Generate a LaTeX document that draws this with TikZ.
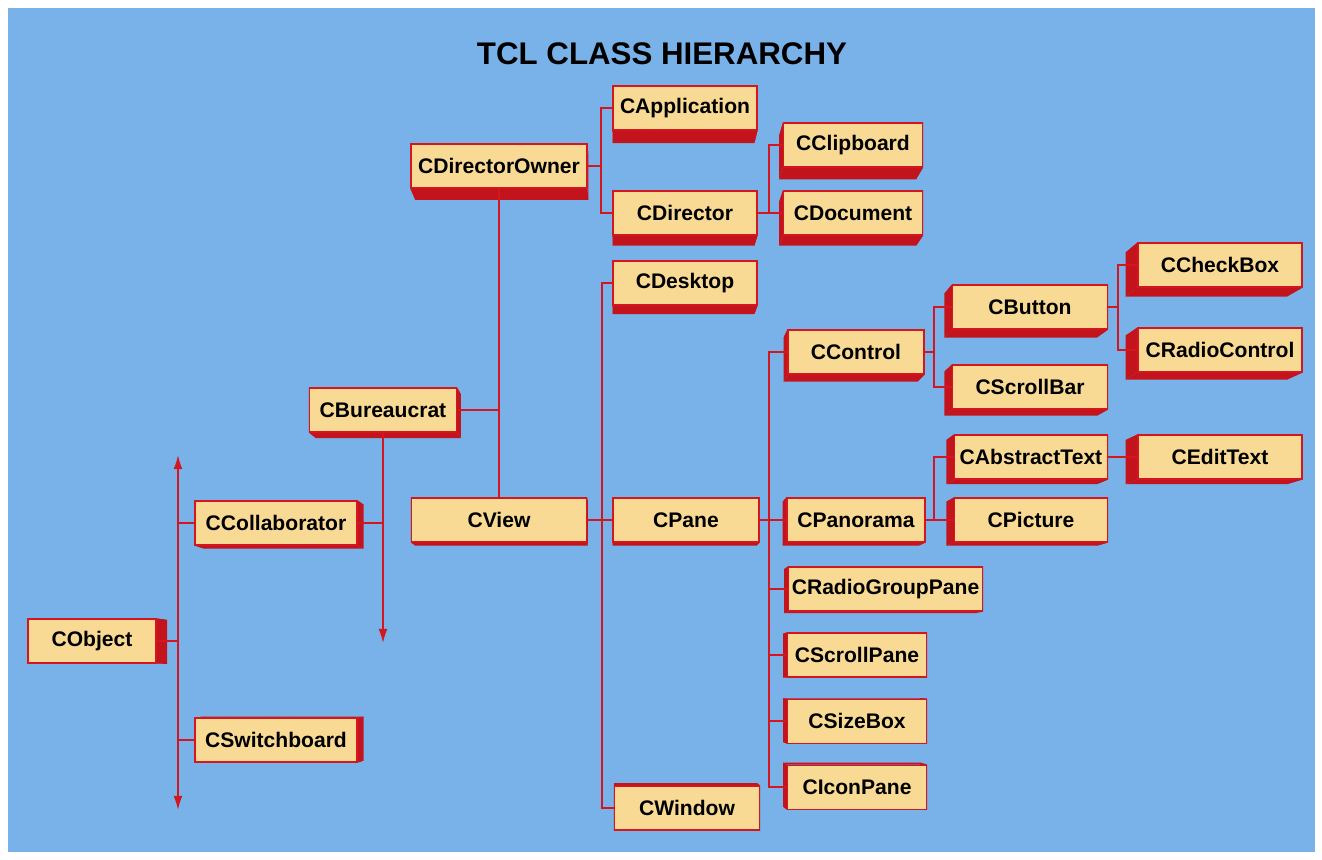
\documentclass[tikz,border=0pt]{standalone}
\usepackage{fontspec}
\setmainfont{Liberation Sans}
\usetikzlibrary{positioning, calc, arrows.meta}
\definecolor{sky}{RGB}{121,178,232}
\definecolor{boxfill}{RGB}{248,218,148}
\definecolor{boxred}{RGB}{212,22,32}
\pgfdeclarelayer{backdrop}
\pgfdeclarelayer{sides}
\pgfsetlayers{backdrop,sides,main}
\newcommand{\recede}{0.023}

\begin{document}
\begin{tikzpicture}[
    x=0.02cm, y=-0.02cm,
    node distance=0.42cm,
    cls/.style={rectangle, draw=boxred, line width=0.6pt, fill=boxfill, inner sep=0pt,
        minimum height=0.88cm, minimum width=#1*0.02cm, font=\fontsize{12}{14}\selectfont\bfseries},
    side/.style={fill=boxred!92!black},
    link/.style={draw=boxred, line width=0.8pt},
    >={Latex[length=8pt,width=5pt]}
]
    \useasboundingbox (0,0) rectangle (1322,859);
    \begin{pgfonlayer}{backdrop}
        \fill[white] (0,0) rectangle (1322,859);
        \fill[sky] (8,8) rectangle (1315,852);
    \end{pgfonlayer}

    \node[font=\fontsize{17.8}{20}\selectfont\bfseries] (title) at (662,54) {TCL CLASS HIERARCHY};

    % left part of the tree
    \node[cls=128] (obj) at (92,641) {CObject};
    \node[cls=162] (collab) at (276,523) {CCollaborator};
    \node[cls=162] (switch) at (276,740) {CSwitchboard};
    \node[cls=147] (bureau) at (383,410) {CBureaucrat};
    \node[cls=176] (dirown) at (499,166) {CDirectorOwner};
    \node[cls=175] (view) at (499,520) {CView};

    % middle column
    \node[cls=144] (app) at (685,108) {CApplication};
    \node[cls=144] (director) at (685,213) {CDirector};
    \node[cls=144] (desktop) at (685,283) {CDesktop};
    \node[cls=146] (pane) at (686,520) {CPane};
    \node[cls=145] (window) at (687,808) {CWindow};

    % pane subclasses
    \node[cls=139] (clip) at (853,145) {CClipboard};
    \node[cls=139] (doc) at (853,213) {CDocument};
    \node[cls=136] (ctrl) at (856,352) {CControl};
    \node[cls=138] (panorama) at (856,520) {CPanorama};
    \node[cls=194, anchor=west] (rgpane) at (788,589) {CRadioGroupPane};
    \node[cls=139] (spane) at (857,655) {CScrollPane};
    \node[cls=139, below=of spane] (sizebox) {CSizeBox};
    \node[cls=139, below=of sizebox] (iconpane) {CIconPane};

    % right part
    \node[cls=155] (button) at (1030,307) {CButton};
    \node[cls=155] (sbar) at (1030,387) {CScrollBar};
    \node[cls=153] (atext) at (1031,457) {CAbstractText};
    \node[cls=153] (picture) at (1031,520) {CPicture};
    \node[cls=164] (check) at (1220,265) {CCheckBox};
    \node[cls=164] (radio) at (1220,350) {CRadioControl};
    \node[cls=164] (edit) at (1220,457) {CEditText};

    % depth of the boxes, towards one vanishing point
    \coordinate (vp) at (620,680);
    \begin{pgfonlayer}{sides}
        \foreach \n in {obj,collab,switch,bureau,dirown,view,app,director,desktop,pane,window,
                        clip,doc,ctrl,panorama,rgpane,spane,sizebox,iconpane,
                        button,sbar,atext,picture,check,radio,edit} {
            \foreach \a/\b in {north west/north east, north east/south east,
                               south east/south west, south west/north west}
                \fill[side] (\n.\a) -- (\n.\b) -- ($(\n.\b)!\recede!(vp)$) -- ($(\n.\a)!\recede!(vp)$) -- cycle;
        }
    \end{pgfonlayer}

    % branch points
    \coordinate (objtop) at (178,455);
    \coordinate (objbot) at (178,810);
    \coordinate (bureaubot) at (383,643);
    \coordinate (jdirown) at (601,0);
    \coordinate (jdirector) at (769,0);
    \coordinate (jview) at (602,0);
    \coordinate (jpane) at (769,0);
    \coordinate (jctrl) at (934,0);
    \coordinate (jbutton) at (1118,0);

    \draw[link, <->] (objtop) -- (objbot);
    \draw[link] (obj.east) -- (obj.east -| objtop);
    \draw[link] (collab.west) -- (collab.west -| objtop);
    \draw[link] (switch.west) -- (switch.west -| objtop);
    \draw[link, ->] (bureau.south) -- (bureaubot);
    \draw[link] (collab.east) -- (collab.east -| bureaubot);
    \draw[link] (bureau.east) -- (bureau.east -| dirown.south);
    \draw[link] (dirown.south) -- (view.north);
    \draw[link] (dirown.east) -- (dirown.east -| jdirown);
    \draw[link] (app.west) -| (jdirown |- director.west) -- (director.west);
    \draw[link] (director.east) -- (doc.west);
    \draw[link] (clip.west) -| (jdirector |- doc.west);
    \draw[link] (view.east) -- (pane.west);
    \draw[link] (desktop.west) -| (jview |- window.west) -- (window.west);
    \draw[link] (pane.east) -- (panorama.west);
    \draw[link] (ctrl.west) -| (jpane |- iconpane.west) -- (iconpane.west);
    \foreach \n in {rgpane,spane,sizebox}
        \draw[link] (\n.west) -- (\n.west -| jpane);
    \draw[link] (ctrl.east) -- (ctrl.east -| jctrl);
    \draw[link] (button.west) -| (jctrl |- sbar.west) -- (sbar.west);
    \draw[link] (button.east) -- (button.east -| jbutton);
    \draw[link] (check.west) -| (jbutton |- radio.west) -- (radio.west);
    \draw[link] (panorama.east) -- (picture.west);
    \draw[link] (atext.west) -| (jctrl |- picture.west);
    \draw[link] (atext.east) -- (edit.west);
\end{tikzpicture}
\end{document}
